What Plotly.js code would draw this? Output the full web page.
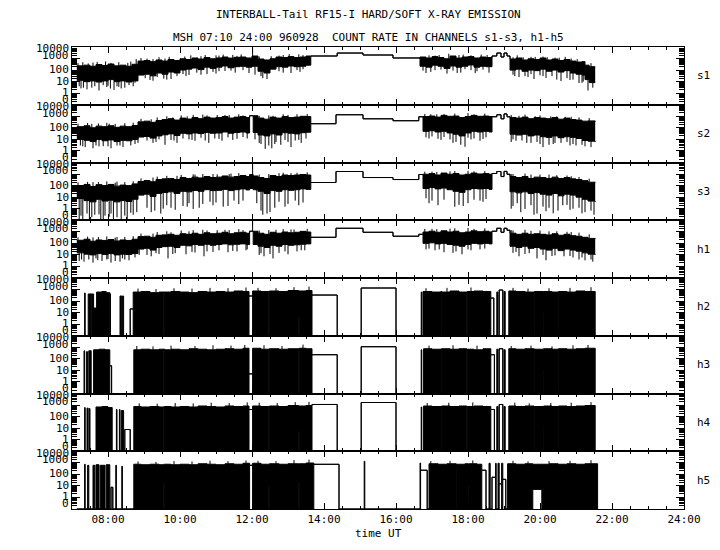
<!DOCTYPE html>
<html><head><meta charset="utf-8">
<script src="https://cdn.plot.ly/plotly-3.0.1.min.js"></script>
<style>html,body{margin:0;padding:0;background:#fff}#chart{width:720px;height:550px}</style>
</head><body><div id="chart"></div>
<script>
// ---------- categories / tick labels ----------
const channels = ['s1','s2','s3','h1','h2','h3','h4','h5'];
const xTickVals = [8,10,12,14,16,18,20,22,24];
const xTickText = ['08:00','10:00','12:00','14:00','16:00','18:00','20:00','22:00','24:00'];
const yTickVals = [0.1,1,10,100,1000,10000];
const yTickText = ['0','1','10','100','1000','10000'];

// ---------- data: [time UT, upper count, lower count] per interval (0 = zero count) ----------
const S1 = [['07:08',233,13],['07:20',268,10],['07:30',215,11.6],['07:40',302,9.3],['07:50',251,11.6],['08:00',335,15],['08:10',233,10],['08:20',268,11.6],['08:30',215,9.3],['08:40',320,11.6],
['08:50',607,37],['09:00',680,44],['09:10',540,32],['09:20',750,56],['09:30',607,44],['09:40',825,68],['09:50',680,56],['10:00',960,102],['10:10',825,121],['10:20',1120,152],
['10:30',900,111],['10:40',1220,179],['10:50',960,141],['11:00',1120,179],['11:10',1360,228],['11:20',1090,160],['11:30',1280,197],['11:40',1360,215],['11:50',1120,179],['12:00',1660,215],
['12:10',910,79],['12:20',750,56],['12:30',960,121],['12:40',1360,197],['12:50',1220,179],['13:00',1470,228],['13:10',1220,197],['13:20',1360,215],['13:30',1660,268],
['13:38',1660,1660],['14:22',3000,3000],['15:05',2030,2030],['15:55',1120,1120],
['16:40',1360,215],['16:50',1120,179],['17:00',1470,268],['17:10',1220,215],['17:20',960,141],['17:30',1660,228],['17:40',1090,179],['17:50',1360,215],['18:00',1470,277],['18:10',1120,179],['18:20',1360,215],['18:30',1220,197],
['18:40',1660,1660],['18:48',3000,3000],['18:55',1360,1360],['19:00',3000,3000],['19:05',1660,1660],
['19:10',910,100],['19:20',1120,121],['19:30',750,79],['19:40',960,100],['19:50',825,90],['20:00',1120,121],['20:10',750,79],['20:20',910,100],['20:30',680,68],['20:40',825,90],
['20:50',607,56],['21:00',500,44],['21:10',540,37],['21:15',268,15],['21:22',197,8.3],['21:32',197,8.3]];
const S1_SPIKES = [['07:12',4],['07:15',2.6],['07:25',2.15],['07:33',3],['07:45',1.7],['07:52',5],['07:58',3.4],['08:04',2.5],['08:10',1.9],['08:15',4],['08:22',2.6],['08:28',3],['08:35',5],['08:45',8],
['09:02',20],['09:10',14],['09:22',25],['09:33',18],['09:45',17],['09:55',30],['10:05',45],['10:15',38],['10:28',60],['10:45',45],['10:55',70],['11:05',80],['11:15',83],['11:25',90],['11:45',100],
['12:01',10000],['12:05',40],['12:15',30],['12:25',17],['12:45',80],['13:05',56],['13:15',100],['13:25',120],['16:45',90],['16:50',56],['17:05',100],['17:15',110],['17:35',90],['17:42',56],['17:55',120],['18:05',100],['18:15',80],['18:25',110],
['19:15',40],['19:25',25],['19:35',30],['19:45',45],['19:50',17],['20:00',35],['20:10',21],['20:20',30],['20:35',11.3],['20:45',20],['20:55',15],['21:05',7.6],['21:10',8],['21:20',1.7],
['07:19',3],['07:38',4],['08:00',4.5],['08:18',3.5],['08:42',4],['09:15',12],['09:38',15],['10:10',30],['10:35',40],['11:00',50],['11:32',60],['11:55',55],['12:18',20],['12:52',60],['13:20',70],
['16:58',70],['17:25',50],['17:48',60],['18:12',55],['18:35',60],['19:18',30],['19:40',25],['20:05',30],['20:28',15],['20:50',14],['21:12',10],['21:28',3],
['07:35',450],['08:05',420],['08:47',900],['09:15',900],['09:35',1000],['10:35',1600],['11:05',1800],['11:35',1700],['12:45',1800],['13:25',2000],['17:05',1800],['17:45',2000],['18:05',1900],['19:15',1300],['19:45',1400],['20:05',1500],['20:25',1200],
['07:10',400],['07:18',480],['07:27',380],['07:42',520],['07:56',560],['08:18',480],['08:33',420],['08:38',550],['08:55',1100],['09:05',1000],['09:25',1300],['09:42',1400],['10:08',1500],['10:18',1900],
['10:42',2000],['11:00',1900],['11:12',2200],['11:28',2100],['11:42',2300],['12:12',1500],['12:32',1600],['12:52',2000],['13:02',2400],['13:18',2300],['16:55',1900],['17:12',2000],['17:28',2600],
['17:52',2200],['18:22',2200],['18:32',2000],['19:22',1900],['19:32',1300],['19:52',1400],['20:12',1300],['20:32',1200],['20:42',1400],['20:52',1000],['21:02',900],['21:25',400]];

const S2 = [['07:08',126,10],['07:20',152,8.3],['07:30',102,6.5],['07:40',141,10],['07:50',126,7.6],['08:00',152,9],['08:10',111,6.5],['08:20',141,8.3],['08:30',126,7.6],['08:40',160,10],
['08:50',330,16],['09:00',380,18],['09:10',300,13],['09:20',430,20],['09:30',520,25],['09:40',620,30],['09:50',470,22],['10:00',700,34],['10:10',580,30],['10:20',780,36],
['10:30',620,32],['10:40',850,40],['10:50',700,34],['11:00',780,36],['11:10',950,44],['11:20',700,34],['11:30',850,40],['11:40',950,44],['11:50',780,36],['11:56',1120,1120],
['12:02',1120,40],['12:10',700,24],['12:20',560,20],['12:30',850,30],['12:40',700,24],['12:50',950,38],['13:00',780,34],['13:10',850,30],['13:20',1000,38],['13:30',950,42],
['13:38',228,228],['14:20',1360,1360],['15:05',607,607],['15:55',414,414],['16:38',910,910],
['16:45',950,50],['16:55',1050,56],['17:05',850,44],['17:15',1200,50],['17:25',1000,36],['17:35',1050,28],['17:45',780,20],['17:55',950,36],['18:05',1200,50],['18:15',1000,44],['18:25',1050,50],['18:35',950,44],
['18:40',910,910],['18:48',1360,1360],['18:55',607,607],['19:00',1600,1600],['19:05',910,910],
['19:10',780,28],['19:20',700,24],['19:30',850,28],['19:40',620,20],['19:50',780,24],['20:00',700,17],['20:10',620,15],['20:20',780,20],['20:30',560,14],['20:40',700,17],
['20:50',520,15],['21:00',470,12],['21:10',380,8],['21:20',400,7],['21:32',340,6]];
const S2_SPIKES = [['07:14',3],['07:22',2.15],['07:35',1.7],['07:45',2.5],['07:52',2.6],['08:05',1.7],['08:15',3],['08:25',2.15],['08:38',3],['08:45',4],
['09:05',8],['09:15',5],['09:25',10],['09:35',3.4],['09:45',9],['09:55',5],['10:05',12],['10:15',10],['10:25',7.6],['10:35',14],['10:48',5],['10:58',12],['11:10',7.6],['11:20',15],['11:35',11.3],['11:45',16],
['12:05',10],['12:15',4],['12:22',1.5],['12:28',3],['12:33',1.7],['12:40',6],['12:48',3.4],['12:55',9],['13:05',2.15],['13:12',8],['13:22',5],['13:30',12],
['16:50',15],['17:00',18],['17:10',11.3],['17:20',16],['17:30',10],['17:40',6],['17:48',3.4],['17:55',2.3],['18:00',14],['18:10',12],['18:20',7.6],['18:30',15],
['19:15',10],['19:20',7.6],['19:30',8],['19:45',5],['19:55',6],['20:05',2.15],['20:15',3.4],['20:25',5],['20:35',5],['20:45',6],['20:55',4],['21:00',3],['21:10',3.4],['21:25',2.15],
['07:18',2.5],['07:40',3],['08:00',2.5],['08:20',3],['08:50',5],['09:20',6],['09:50',8],['10:20',9],['10:42',8],['11:05',11],['11:28',9],['11:52',12],['12:12',5],['12:38',4],['13:00',6],['13:18',9],
['16:55',12],['17:15',9],['17:35',5],['18:05',10],['18:25',11],['19:12',6],['19:38',5],['20:00',4],['20:22',4],['20:50',3],['21:15',2.5],
['07:33',220],['08:02',230],['09:12',550],['09:48',800],['10:12',1000],['10:45',1200],['11:15',1300],['11:45',1200],['12:35',1100],['13:00',1300],['16:58',1500],['17:20',1600],['18:10',1500],['19:25',1100],['19:52',1000],['20:18',1000],['20:42',900],
['07:10',230],['07:26',260],['07:44',240],['07:58',270],['08:12',220],['08:28',250],['08:42',280],['08:55',600],['09:22',800],['09:38',1000],['10:02',1200],['10:22',1300],['10:38',1400],['11:02',1300],
['11:22',1300],['11:38',1500],['12:12',1100],['12:28',1200],['12:52',1500],['13:15',1500],['13:32',1600],['16:48',1600],['17:08',1500],['17:38',1700],['18:00',1900],['18:28',1700],['19:12',1300],
['19:35',1400],['20:00',1200],['20:28',1000],['20:52',900],['21:05',800],['21:22',700]];

const S3 = [['07:08',102,7.6],['07:20',126,5],['07:30',83,3.9],['07:40',121,6.5],['07:50',100,4.6],['08:00',126,5.4],['08:10',90,3.9],['08:20',111,5],['08:30',100,4.2],['08:40',141,6.5],
['08:50',228,15],['09:00',277,18],['09:10',215,11.6],['09:20',335,21],['09:30',383,25],['09:40',414,29],['09:50',335,21],['10:00',500,32],['10:10',414,29],['10:20',540,38],
['10:30',460,32],['10:40',607,44],['10:50',500,37],['11:00',540,39],['11:10',680,47],['11:20',540,37],['11:30',607,44],['11:40',750,52],['11:50',607,42],['11:56',910,56],
['12:02',680,44],['12:10',500,32],['12:20',414,21],['12:30',750,37],['12:40',607,32],['12:50',825,44],['13:00',750,39],['13:10',825,44],['13:20',910,52],['13:30',825,47],
['13:38',185,185],['14:20',1660,1660],['15:05',500,500],['15:55',335,335],['16:38',910,910],
['16:45',960,56],['16:55',1090,68],['17:05',825,52],['17:15',1220,61],['17:25',960,44],['17:35',1120,32],['17:45',825,26],['17:55',960,44],['18:05',1220,56],['18:15',1020,52],['18:25',1090,56],['18:35',960,47],
['18:40',1120,1120],['18:48',1660,1660],['18:55',607,607],['19:00',1700,1700],['19:05',960,960],
['19:10',607,29],['19:20',500,23.5],['19:30',607,29],['19:40',414,21],['19:50',540,25],['20:00',500,18],['20:10',414,15],['20:20',540,21],['20:30',414,13],['20:40',500,18],
['20:50',383,15],['21:00',335,10],['21:10',268,6.5],['21:20',197,4.6],['21:32',179,3.9]];
const S3_SPIKES = [['07:12',0],['07:15',0.25],['07:25',0.38],['07:29',0],['07:33',0.18],['07:45',0.32],['07:48',0],['07:55',0.25],['08:05',0.38],['08:09',0],['08:15',0.18],['08:28',0.25],['08:32',0],['08:38',0.44],['08:48',0.5],
['09:05',1.2],['09:18',0.68],['09:28',0.38],['09:38',2],['09:45',1.2],['10:05',1.7],['10:15',3],['10:22',0.95],['10:38',2.6],['10:50',4],['11:00',3.4],['11:20',1.7],['11:30',5],['11:45',5],
['12:01',10000],['12:08',3],['12:15',0.68],['12:25',0.38],['12:38',1.2],['12:45',4],['13:00',2.6],['13:12',5],['13:25',3.4],
['16:50',8],['17:00',5],['17:20',6],['17:45',2.15],['17:52',1.7],['18:10',6],['18:20',5],['18:30',7],
['19:15',1.7],['19:22',3],['19:35',0.95],['19:45',2],['19:55',0.38],['20:05',1.5],['20:15',1.2],['20:30',0.68],['20:38',2],['20:45',2.15],['20:55',1],['21:05',1.2],['21:15',0.5],['21:25',0.68],
['07:18',0],['07:38',0.3],['07:52',0],['08:02',0.2],['08:22',0],['08:42',0.3],['09:12',0.5],['09:32',1],['09:52',0.8],['10:12',1.5],['10:32',1.2],['10:55',2],['11:12',1.5],['11:38',2.5],['12:18',0.3],['12:30',0.5],
['12:55',1.5],['13:18',2],['16:55',3],['17:10',2],['17:38',1.5],['18:00',3],['18:25',4],['19:12',1],['19:28',0.5],['19:50',0.3],['20:10',0.6],['20:22',0.4],['20:50',0.8],['21:10',0.4],['21:30',0.3],
['07:35',200],['08:15',220],['09:15',500],['09:55',700],['10:25',900],['10:55',1000],['11:25',1100],['12:45',1200],['13:15',1300],['17:00',1600],['17:30',1700],['18:10',1700],['19:15',1000],['19:45',900],['20:15',900],['20:45',750],
['07:10',190],['07:26',210],['07:44',200],['07:58',230],['08:12',180],['08:28',200],['08:42',240],['08:55',420],['09:22',600],['09:38',700],['10:02',850],['10:22',950],['10:38',1000],['11:02',950],
['11:22',1000],['11:38',1200],['12:12',900],['12:28',1000],['12:52',1300],['13:05',1200],['13:32',1400],['16:48',1600],['17:08',1500],['17:38',1800],['18:00',1900],['18:28',1800],['19:12',1000],
['19:35',1100],['20:00',900],['20:28',800],['20:52',650],['21:05',550],['21:22',400]];

const H1 = [['07:08',185,15],['07:20',228,11.6],['07:30',152,10],['07:40',197,13],['07:50',179,11],['08:00',215,13],['08:10',160,10],['08:20',197,11.6],['08:30',179,11],['08:40',228,13],
['08:50',383,32],['09:00',414,37],['09:10',335,26],['09:20',500,44],['09:30',540,52],['09:40',607,56],['09:50',500,44],['10:00',680,68],['10:10',607,61],['10:20',750,79],
['10:30',607,68],['10:40',825,83],['10:50',680,68],['11:00',750,79],['11:10',910,90],['11:20',680,75],['11:30',825,83],['11:40',910,90],['11:50',750,79],['11:56',1120,1120],
['12:02',1120,79],['12:10',750,56],['12:20',607,44],['12:30',910,68],['12:40',750,56],['12:50',960,79],['13:00',825,68],['13:10',910,75],['13:20',1090,83],['13:30',960,90],
['13:38',335,335],['14:20',2030,2030],['15:05',910,910],['15:55',414,414],['16:38',607,607],
['16:45',960,100],['16:55',1120,111],['17:05',910,90],['17:15',1220,100],['17:25',960,79],['17:35',1120,68],['17:45',825,56],['17:55',960,79],['18:05',1220,100],['18:15',1020,90],['18:25',1120,100],['18:35',960,90],
['18:40',1120,1120],['18:48',2030,2030],['18:55',910,910],['19:00',2030,2030],['19:05',1360,1360],
['19:10',750,56],['19:20',607,44],['19:30',750,56],['19:40',607,37],['19:50',680,44],['20:00',607,32],['20:10',540,26],['20:20',680,37],['20:30',500,23.5],['20:40',607,32],
['20:50',460,26],['21:00',414,21],['21:10',335,15],['21:20',268,11.6],['21:32',233,10]];
const H1_SPIKES = [['07:12',3],['07:20',2.6],['07:28',4],['07:35',2.15],['07:43',3.5],['07:50',3],['07:58',4],['08:05',2.15],['08:12',3],['08:20',2.6],['08:28',4],['08:35',3.4],['08:45',6],
['09:05',10],['09:12',7.6],['09:25',12],['09:40',5],['09:52',14],['10:10',11.3],['10:25',16],['10:40',7.6],['10:55',18],['11:20',17],['11:35',20],['11:50',25],
['12:01',9000],['12:12',10],['12:20',7.6],['12:35',5],['12:45',15],['13:00',11.3],['13:15',20],['13:28',25],
['16:50',30],['17:05',25],['17:20',17],['17:35',15],['17:50',11.3],['18:05',25],['18:20',30],
['19:15',15],['19:25',7.6],['19:35',12],['19:55',5],['20:10',3.4],['20:20',8],['20:40',7.6],['20:55',6],['21:05',4],['21:15',3.4],['21:28',2.6],
['07:16',4],['07:40',5],['08:00',4.5],['08:24',5],['08:52',10],['09:20',14],['09:48',12],['10:20',18],['10:45',20],['11:05',25],['11:28',22],['11:52',30],['12:15',14],['12:30',12],['12:55',20],['13:22',25],
['16:55',35],['17:12',30],['17:40',20],['18:00',30],['18:28',35],['19:20',18],['19:42',14],['20:05',10],['20:25',9],['20:50',8],['21:10',6],['21:25',4],
['07:35',330],['08:15',350],['09:15',700],['09:45',900],['10:15',1100],['10:45',1300],['11:15',1500],['11:45',1400],['12:40',1500],['13:10',1600],['17:00',1800],['17:30',1900],['18:10',1800],['19:15',1300],['19:45',1200],['20:15',1100],['20:45',1000],
['07:10',330],['07:26',380],['07:44',350],['07:58',400],['08:12',320],['08:28',360],['08:42',420],['08:55',700],['09:22',950],['09:38',1100],['10:02',1300],['10:22',1400],['10:38',1500],['11:02',1400],
['11:22',1400],['11:38',1700],['12:12',1300],['12:28',1400],['12:52',1700],['13:05',1600],['13:32',1800],['16:48',1800],['17:08',1700],['17:38',2000],['18:00',2100],['18:28',2000],['19:12',1400],
['19:35',1500],['20:00',1300],['20:28',1100],['20:52',950],['21:05',850],['21:22',600]];

const H2 = [['07:08',0,0],['07:21',500,0],['07:22',0,0],['07:27',414,0],['07:31',414,414],['07:32',414,0],['07:36',25,0],['07:41',607,0],['07:50',680,0],['07:57',540,0],
['08:03',414,414],['08:04',0,0],['08:20',277,0],['08:23',0,0],['08:24',277,0],['08:26',0,0],['08:37',21,21],['08:42',607,0],['08:55',680,0],['09:10',540,0],
['09:25',607,0],['09:33',607,607],['09:34',607,0],['09:45',680,0],['10:00',607,0],['10:15',540,0],['10:30',680,0],['10:45',607,0],['11:00',680,0],['11:15',607,0],
['11:30',750,0],['11:45',680,0],['11:55',277,277],['12:01',750,0],['12:15',680,0],['12:28',680,680],['12:29',750,0],['12:45',680,0],['13:00',825,0],['13:18',750,3.4],
['13:19',750,0],['13:30',825,0],['13:40',335,335],['14:22',0,0],['15:02',1360,1360],['16:00',0,0],['16:42',607,0],['16:43',0,0],['16:45',680,0],['17:00',607,0],
['17:15',680,680],['17:16',607,0],['17:30',750,0],['17:45',607,0],['17:58',607,607],['17:59',680,0],['18:10',750,0],['18:25',680,0],['18:38',185,185],['18:43',0,0],
['18:48',607,0],['18:50',0,0],['18:52',910,910],['18:58',0,0],['19:00',680,0],['19:02',0,0],['19:08',750,0],['19:20',680,0],['19:35',607,0],['19:50',607,607],
['19:51',680,0],['20:05',607,11.6],['20:06',680,0],['20:20',607,0],['20:30',607,607],['20:31',680,0],['20:45',607,0],['21:00',750,0],['21:15',680,0],['21:32',0,0]];
const H2_SPIKES = [['08:50',1200],['09:20',1100],['09:50',1300],['10:20',1200],['10:50',1400],['11:20',1300],['11:50',1500],['12:10',1400],['12:40',1300],['13:10',1600],['13:35',1800],['16:50',1300],['17:25',1400],['18:05',1500],['19:15',1400],['19:40',1200],['20:15',1300],['20:50',1400],['21:25',1600]];

const H3 = [['07:08',0,0],['07:20',500,0],['07:21',0,0],['07:24',414,0],['07:26',0,0],['07:28',500,0],['07:32',0,0],['07:36',607,0],['07:45',680,0],['07:55',607,0],
['08:03',25,25],['08:06',0,0],['08:43',607,0],['08:55',680,0],['09:10',607,0],['09:25',680,0],['09:33',680,680],['09:34',607,0],['09:45',680,0],['10:00',607,0],
['10:15',750,0],['10:30',680,0],['10:45',607,0],['11:00',680,0],['11:15',750,0],['11:30',680,0],['11:45',825,0],['11:55',5,5],['12:01',825,0],['12:15',680,0],
['12:28',680,680],['12:29',750,0],['12:45',680,0],['13:00',750,0],['13:18',750,750],['13:19',825,0],['13:30',750,0],['13:40',228,228],['14:22',0,0],['15:02',1120,1120],
['16:00',0,0],['16:42',607,0],['16:43',0,0],['16:46',750,0],['17:00',680,0],['17:15',680,680],['17:16',750,0],['17:30',680,0],['17:45',750,0],['17:58',607,607],
['17:59',680,0],['18:10',607,0],['18:25',750,0],['18:38',228,228],['18:44',0,0],['18:48',680,0],['18:50',0,0],['18:52',750,750],['18:58',0,0],['19:00',607,0],
['19:02',0,0],['19:08',750,0],['19:20',680,0],['19:35',750,0],['19:50',680,680],['19:51',680,0],['20:05',680,8.3],['20:06',750,0],['20:20',680,0],['20:30',680,680],
['20:31',750,0],['20:45',680,0],['21:00',750,0],['21:15',825,0],['21:32',0,0]];
const H3_SPIKES = [['08:48',1300],['09:15',1200],['09:45',1400],['10:25',1300],['10:55',1500],['11:25',1400],['11:48',1600],['12:20',1500],['12:50',1300],['13:25',1700],['16:55',1400],['17:35',1500],['18:15',1400],['19:12',1300],['19:45',1400],['20:20',1200],['20:55',1500],['21:20',1600]];

const H4 = [['07:08',0,0],['07:21',607,0],['07:22',0,0],['07:25',540,0],['07:27',0,0],['07:29',500,0],['07:30',0,0],['07:40',680,0],['07:50',750,0],['08:00',607,0],
['08:07',0,0],['08:14',414,0],['08:15',0,0],['08:19',414,0],['08:20',0,0],['08:22',335,0],['08:26',0,0],['08:28',7.6,7.6],['08:37',0,0],['08:43',750,0],
['08:55',680,0],['09:10',750,0],['09:25',680,0],['09:33',680,680],['09:34',750,0],['09:45',680,0],['10:00',750,0],['10:15',680,0],['10:30',825,0],['10:45',750,0],
['11:00',680,0],['11:15',825,0],['11:30',750,0],['11:45',825,0],['11:55',414,414],['12:01',825,0],['12:15',750,0],['12:28',750,750],['12:29',825,0],['12:45',750,0],
['13:00',910,0],['13:18',825,5],['13:19',825,0],['13:30',910,0],['13:40',1120,1120],['14:22',0,0],['15:02',1660,1660],['16:00',0,0],['16:42',680,0],['16:43',0,0],
['16:46',825,0],['17:00',750,0],['17:15',750,750],['17:16',825,0],['17:30',750,0],['17:45',825,0],['17:58',750,750],['17:59',750,0],['18:10',825,0],['18:25',750,0],
['18:38',414,414],['18:44',0,0],['18:48',750,0],['18:50',0,0],['18:52',1120,1120],['18:58',0,0],['19:00',750,0],['19:02',0,0],['19:08',825,0],['19:20',750,0],
['19:35',825,0],['19:50',750,750],['19:51',750,0],['20:05',750,11.6],['20:06',825,0],['20:20',750,0],['20:30',750,750],['20:31',825,0],['20:45',750,0],['21:00',825,0],
['21:15',910,0],['21:32',0,0]];
const H4_SPIKES = [['08:52',1400],['09:22',1300],['09:52',1500],['10:22',1400],['10:52',1600],['11:22',1500],['11:52',1700],['12:12',1600],['12:42',1500],['13:12',1800],['13:35',1900],['16:52',1500],['17:28',1600],['18:08',1700],['19:18',1600],['19:42',1400],['20:18',1500],['20:52',1600],['21:25',1800]];

const H5 = [['07:08',0,0],['07:21',750,0],['07:22',0,0],['07:26',607,0],['07:28',0,0],['07:35',607,0],['07:38',0,0],['07:40',680,0],['07:45',0,0],['07:47',607,0],
['07:55',0,0],['07:57',680,0],['08:03',0,0],['08:05',7.6,7.6],['08:08',0,0],['08:13',607,0],['08:14',0,0],['08:23',500,0],['08:24',0,0],['08:43',750,0],
['08:55',680,0],['09:10',750,0],['09:25',680,0],['09:33',750,15],['09:34',750,0],['09:45',680,0],['10:00',750,0],['10:15',680,0],['10:30',825,0],['10:45',750,0],
['11:00',680,0],['11:15',825,0],['11:30',750,0],['11:45',910,0],['11:56',607,607],['12:01',910,0],['12:15',750,0],['12:28',750,10],['12:29',825,0],['12:45',750,0],
['13:00',825,0],['13:18',825,15],['13:19',825,0],['13:30',960,0],['13:43',740,740],['14:25',0,0],['15:07',1360,0],['15:08',0,0],['16:40',960,0],['16:41',228,228],
['16:52',0,0],['16:55',825,0],['17:10',750,0],['17:25',825,0],['17:40',750,750],['17:41',750,0],['17:55',825,0],['18:00',750,8.3],['18:01',825,0],['18:15',750,0],
['18:23',228,228],['18:30',0,0],['18:35',910,0],['18:37',0,0],['18:40',56,56],['18:46',910,0],['18:47',0,0],['18:50',910,0],['18:52',15,15],['18:56',910,0],
['18:58',37,37],['19:03',0,0],['19:06',825,0],['19:20',750,0],['19:35',825,0],['19:48',750,5],['20:03',750,0],['20:15',825,0],['20:30',750,0],['20:45',825,0],
['21:00',750,0],['21:15',825,0],['21:36',0,0]];
const H5_SPIKES = [['08:50',1300],['09:20',1200],['09:50',1400],['10:20',1300],['10:50',1500],['11:20',1400],['11:50',1600],['12:10',1500],['12:40',1400],['13:10',1700],['13:35',1900],['16:58',1400],['17:30',1500],['18:08',1600],['19:15',1500],['19:40',1300],['20:15',1400],['20:50',1500],['21:25',1700]];

const BANDS = [S1,S2,S3,H1,H2,H3,H4,H5];
const SPIKES = [S1_SPIKES,S2_SPIKES,S3_SPIKES,H1_SPIKES,H2_SPIKES,H3_SPIKES,H4_SPIKES,H5_SPIKES];

// ---------- style ----------
const ZERO_LEVEL = 0.1;             // a zero count is drawn on the "0" tick (axis floor)
const FONT = 'DejaVu Sans Mono, Liberation Mono, monospace';
const yLabelShiftPx = [5.25, 0.7, 0, 0.6, 3.3, -1.75];   // vertical nudge of the y tick labels
const hrs = s => { const p = s.split(':'); return +p[0] + (+p[1]) / 60; };
const lv = v => (v <= 0 ? ZERO_LEVEL : v);
const YMIN = -1, YMAX = 4;

const traces = [];
const layout = {
  width: 720, height: 550,
  margin: {l: 72, r: 36, t: 47, b: 41},
  paper_bgcolor: '#fff', plot_bgcolor: '#fff',
  showlegend: false,
  font: {family: FONT, size: 11, color: '#000'},
  annotations: [],
};
// every tick position (major + minor) for the short ticks
const allY = [];
for (let e = -1; e <= 3; e++) for (let m = 1; m <= 9; m++) allY.push(m * Math.pow(10, e));
allY.push(10000);
const allX = [], allXText = [];
for (let h = 7; h <= 24.001; h += 0.5) {
  allX.push(h);
  const idx = xTickVals.indexOf(h);
  allXText.push(idx >= 0 ? xTickText[idx] : '');
}

const n = channels.length;
channels.forEach((name, i) => {
  const k = i + 1, ko = i + 1 + n;
  const sfx = k === 1 ? '' : String(k);
  const xa = 'x' + sfx, ya = 'y' + sfx, xo = 'x' + ko, yo = 'y' + ko;
  const band = BANDS[i];
  const xs = band.map(r => hrs(r[0]));
  traces.push({x: xs, y: band.map(r => lv(r[2])), mode: 'lines', line: {color: '#000', width: 1, shape: 'hv'}, xaxis: xa, yaxis: ya, hoverinfo: 'skip'});
  traces.push({x: xs, y: band.map(r => lv(r[1])), mode: 'lines', line: {color: '#000', width: 1, shape: 'hv'}, fill: 'tonexty', fillcolor: '#000', xaxis: xa, yaxis: ya, hoverinfo: 'skip'});
  const sx = [], sy = [];
  SPIKES[i].forEach(([t, v]) => {
    const th = hrs(t);
    let j = 0;
    for (let q = 0; q < band.length; q++) if (hrs(band[q][0]) <= th) j = q;
    const base = v < band[j][2] ? band[j][2] : band[j][1];
    sx.push(th, th, null); sy.push(lv(v), lv(base), null);
  });
  traces.push({x: sx, y: sy, mode: 'lines', line: {color: '#000', width: 1}, xaxis: xa, yaxis: ya, hoverinfo: 'skip'});
  // empty traces so that the overlay (long major-tick) axes are drawn
  traces.push({x: [], y: [], mode: 'lines', xaxis: xa, yaxis: yo, hoverinfo: 'skip'});
  traces.push({x: [], y: [], mode: 'lines', xaxis: xo, yaxis: ya, hoverinfo: 'skip'});

  layout['xaxis' + sfx] = {
    domain: [0, 1], anchor: ya, range: [7, 24], fixedrange: true,
    tickmode: 'array', tickvals: allX, ticktext: allXText,
    ticks: 'inside', ticklen: 3, tickwidth: 1, tickcolor: '#000',
    showticklabels: i === n - 1, showline: true, linecolor: '#000', linewidth: 1, mirror: 'ticks',
    showgrid: false, zeroline: false, tickfont: {family: FONT, size: 11, color: '#000'},
  };
  layout['xaxis' + ko] = {
    overlaying: xa, anchor: ya, range: [7, 24], fixedrange: true,
    tickmode: 'array', tickvals: xTickVals, ticks: 'inside', ticklen: 6, tickwidth: 1, tickcolor: '#000',
    showticklabels: false, showline: false, mirror: 'ticks', showgrid: false, zeroline: false,
  };
  layout['yaxis' + sfx] = {
    domain: [1 - (i + 1) / n, 1 - i / n], anchor: xa, type: 'log', range: [YMIN, YMAX], fixedrange: true,
    tickmode: 'array', tickvals: allY, ticks: 'inside', ticklen: 5, tickwidth: 1, tickcolor: '#000',
    showticklabels: false, showline: true, linecolor: '#000', linewidth: 1, mirror: 'ticks',
    showgrid: false, zeroline: false,
  };
  layout['yaxis' + ko] = {
    overlaying: ya, anchor: xa, type: 'log', range: [YMIN, YMAX], fixedrange: true,
    tickmode: 'array', tickvals: yTickVals, ticks: 'inside', ticklen: 8, tickwidth: 1, tickcolor: '#000',
    showticklabels: false, showline: false, mirror: 'ticks', showgrid: false, zeroline: false,
  };
  // y tick labels
  yTickVals.forEach((v, m) => {
    layout.annotations.push({xref: 'paper', yref: ya + ' domain', x: -0.0033, y: (Math.log10(v) - YMIN) / (YMAX - YMIN),
      yshift: yLabelShiftPx[m], xanchor: 'right', yanchor: 'middle', text: yTickText[m], showarrow: false, borderpad: 0,
      font: {family: FONT, size: 11, color: '#000'}});
  });
  layout.annotations.push({xref: 'paper', yref: 'paper', x: 1.018, y: 1 - (i + 0.5) / n, xanchor: 'left', yanchor: 'middle', text: name, showarrow: false, font: {family: FONT, size: 11, color: '#000'}});
});
layout.annotations.push({xref: 'paper', yref: 'paper', x: 0.4837, y: 1.0714, xanchor: 'center', yanchor: 'middle', text: 'INTERBALL-Tail RF15-I HARD/SOFT X-RAY EMISSION', showarrow: false, font: {family: FONT, size: 11, color: '#000'}});
layout.annotations.push({xref: 'paper', yref: 'paper', x: 0.4837, y: 1.0216, xanchor: 'center', yanchor: 'middle', text: 'MSH 07:10 24:00 960928  COUNT RATE IN CHANNELS s1-s3, h1-h5', showarrow: false, font: {family: FONT, size: 11, color: '#000'}});
layout.annotations.push({xref: 'paper', yref: 'paper', x: 0.5, y: -0.052, xanchor: 'center', yanchor: 'middle', text: 'time UT', showarrow: false, font: {family: FONT, size: 11, color: '#000'}});

Plotly.newPlot('chart', traces, layout, {staticPlot: true, displayModeBar: false});
</script></body></html>
